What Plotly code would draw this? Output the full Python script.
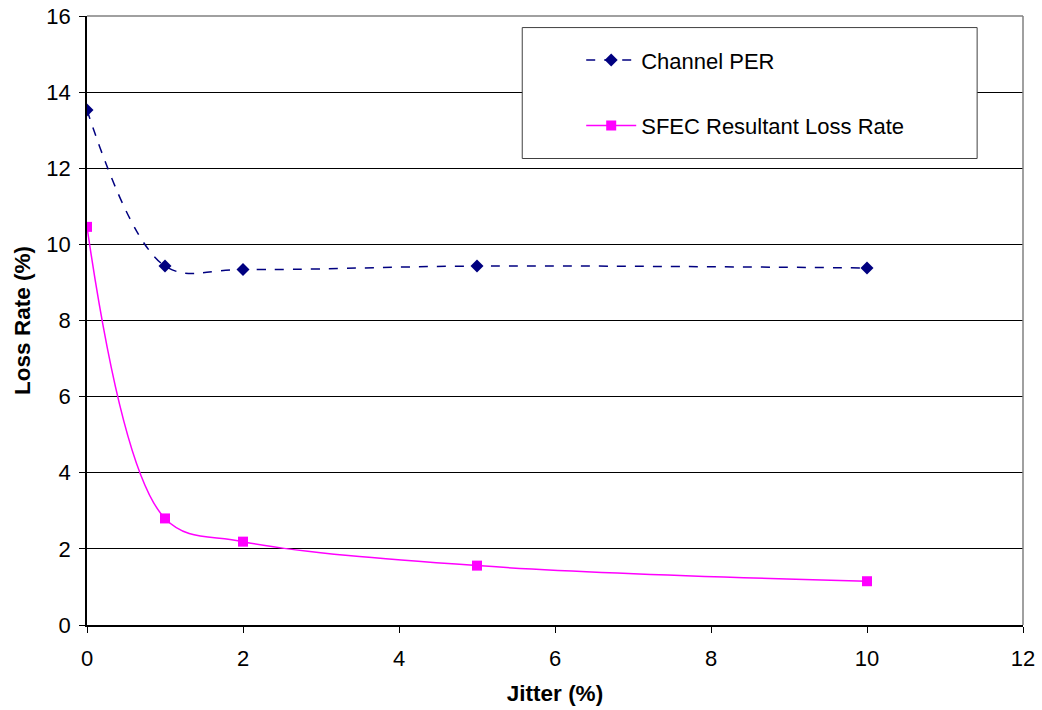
import plotly.graph_objects as go

jitter = [0, 1, 2, 5, 10]
channel_per = [13.53, 9.43, 9.34, 9.43, 9.38]
sfec_loss = [10.46, 2.80, 2.19, 1.56, 1.15]

x_ticks = [0, 2, 4, 6, 8, 10, 12]
y_ticks = [0, 2, 4, 6, 8, 10, 12, 14, 16]

FONT = "Liberation Sans, Arial, sans-serif"

fig = go.Figure()
fig.add_trace(go.Scatter(
    x=jitter, y=channel_per, name="Channel PER", mode="lines+markers",
    line=dict(color="#000080", width=1.5, dash="dash", shape="spline", smoothing=1),
    marker=dict(symbol="diamond", size=10, color="#000080"),
    legendgroup="a",
))
fig.add_trace(go.Scatter(
    x=jitter, y=sfec_loss, name="SFEC Resultant Loss Rate", mode="lines+markers",
    line=dict(color="#FF00FF", width=1.5, shape="spline", smoothing=1),
    marker=dict(symbol="square", size=10, color="#FF00FF"),
    legendgroup="b",
))

fig.update_layout(
    width=1042, height=710,
    margin=dict(l=87, r=19, t=16, b=85, autoexpand=False),
    paper_bgcolor="white", plot_bgcolor="white",
    font=dict(family=FONT, size=22, color="black"),
    showlegend=True,
    legend=dict(
        x=0.528, y=0.962, xanchor="left", yanchor="top",
        bgcolor="rgba(0,0,0,0)", borderwidth=0,
        font=dict(size=22, family=FONT, color="black"),
        tracegroupgap=34, itemwidth=50,
    ),
    shapes=[
        dict(type="rect", xref="paper", yref="paper", x0=0.465, x1=0.951, y0=0.766, y1=0.981,
             fillcolor="white", line=dict(color="#404040", width=1), layer="above"),
        dict(type="line", xref="paper", yref="paper", x0=0, x1=1, y0=1, y1=1,
             line=dict(color="#808080", width=1.5), layer="above"),
        dict(type="line", xref="paper", yref="paper", x0=1, x1=1, y0=0, y1=1,
             line=dict(color="#808080", width=1.5), layer="above"),
    ],
)
fig.update_xaxes(
    range=[0, 12], tickvals=x_ticks, ticktext=[str(v) for v in x_ticks],
    showgrid=False, zeroline=False, showline=True, linecolor="black", linewidth=1.5,
    ticks="outside", ticklen=6, tickcolor="black", ticklabelstandoff=7,
    tickfont=dict(size=22, family=FONT), automargin=False,
    title=dict(text="<b>Jitter (%)</b>", font=dict(size=22.5, family=FONT), standoff=15),
)
fig.update_yaxes(
    range=[0, 16], tickvals=y_ticks, ticktext=[str(v) for v in y_ticks],
    showgrid=True, gridcolor="#000000", gridwidth=1,
    zeroline=False, showline=True, linecolor="black", linewidth=1.5,
    ticks="outside", ticklen=6, tickcolor="black", ticklabelstandoff=4,
    tickfont=dict(size=22, family=FONT), automargin=False,
    title=dict(text="<b>Loss Rate (%)</b>", font=dict(size=22.5, family=FONT), standoff=9),
)

fig.write_html("out.html", config={"displayModeBar": False},
               post_script="document.body.style.margin='0';")
